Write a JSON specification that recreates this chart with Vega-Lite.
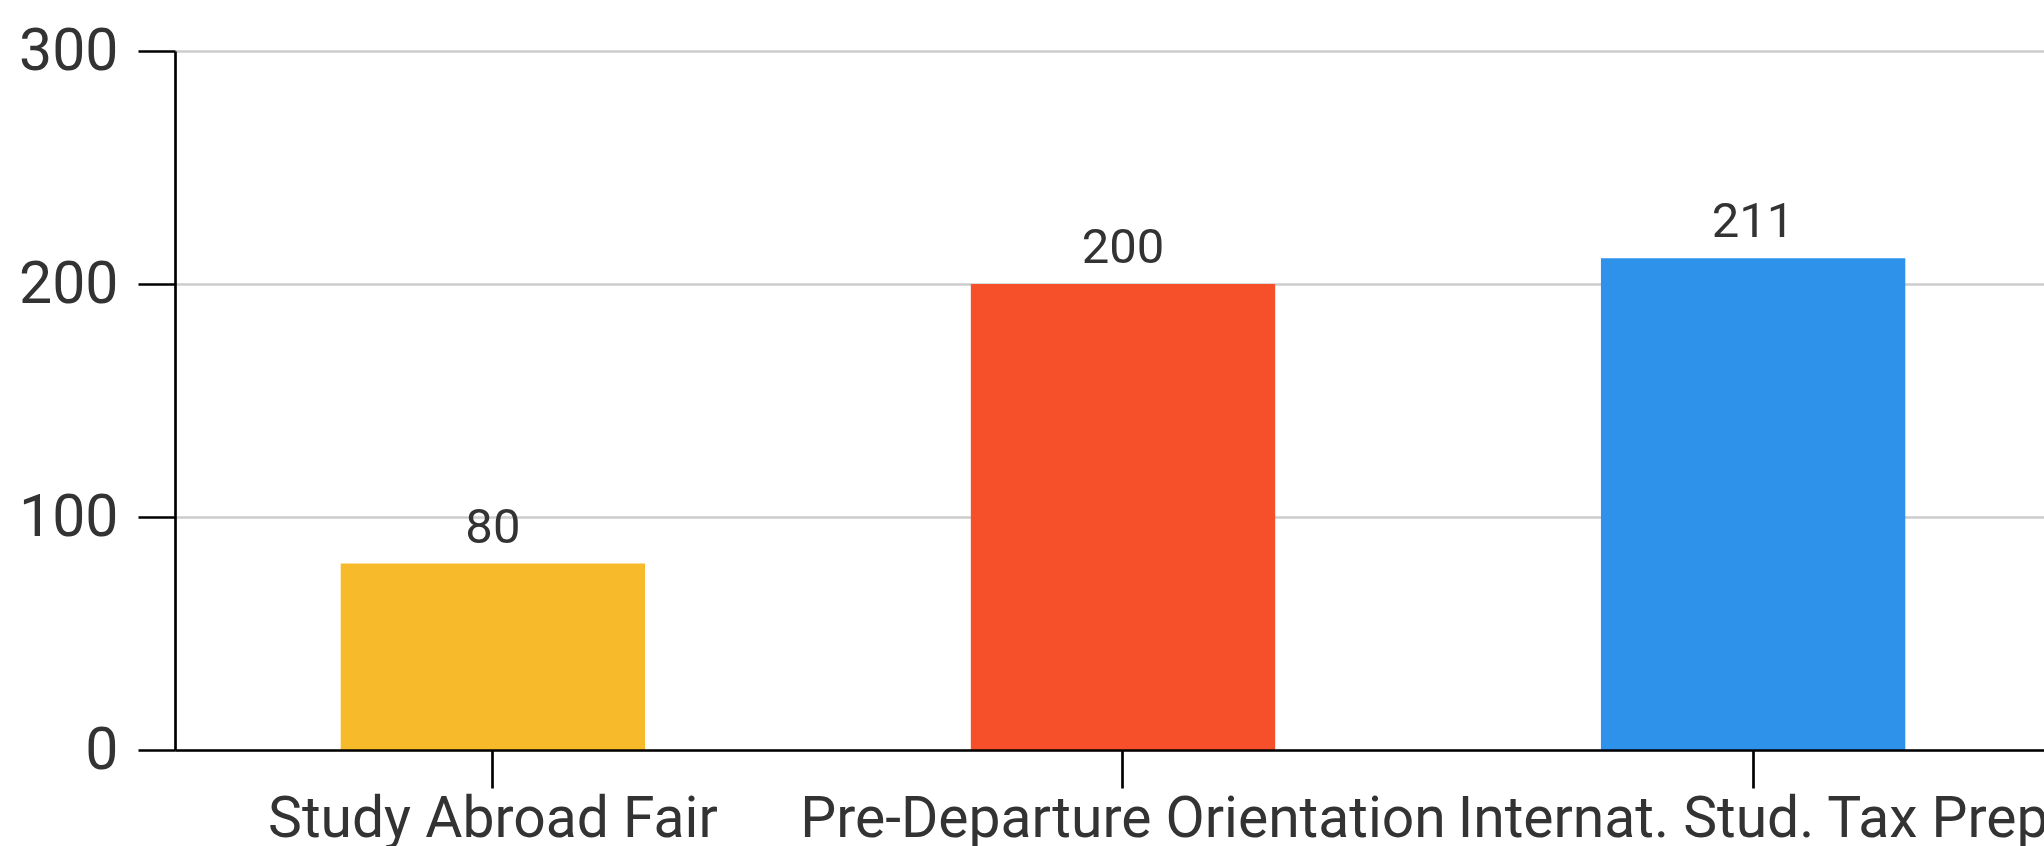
{
  "$schema": "https://vega.github.io/schema/vega-lite/v6.json",
  "autosize": {"type": "none"},
  "padding": {"left": 175, "top": 51, "right": 0, "bottom": 96},
  "width": 1896,
  "height": 699,
  "background": "white",
  "config": {
    "view": {"stroke": null},
    "font": "Roboto"
  },
  "data": {
    "values": [
      {"event": "Study Abroad Fair", "count": 80, "color": "#F6BA2B"},
      {"event": "Pre-Departure Orientation", "count": 200, "color": "#F5502A"},
      {"event": "Internat. Stud. Tax Prep", "count": 211, "color": "#2E91EA"}
    ]
  },
  "encoding": {
    "x": {
      "field": "event",
      "type": "nominal",
      "sort": null,
      "scale": {"paddingInner": 0.517, "paddingOuter": 0.263},
      "axis": {
        "title": null,
        "labelAngle": 0,
        "labelFont": "Roboto",
        "labelFontSize": 57,
        "labelColor": "#333333",
        "labelPadding": 3,
        "labelOverlap": false,
        "labelLimit": 0,
        "domainColor": "#000000",
        "domainWidth": 2.7,
        "tickColor": "#000000",
        "tickWidth": 2.7,
        "tickSize": 38,
        "grid": false,
        "zindex": 1
      }
    },
    "y": {
      "field": "count",
      "type": "quantitative",
      "scale": {"domain": [0, 300], "nice": false},
      "axis": {
        "title": null,
        "values": [0, 100, 200, 300],
        "labelFont": "Roboto",
        "labelFontSize": 59,
        "labelColor": "#333333",
        "labelPadding": 20,
        "domainColor": "#000000",
        "domainWidth": 2.7,
        "tickColor": "#000000",
        "tickWidth": 2.7,
        "tickSize": 37,
        "grid": true,
        "gridColor": "#cccccc",
        "gridWidth": 2.5
      }
    }
  },
  "layer": [
    {
      "mark": {"type": "bar"},
      "encoding": {
        "color": {"field": "color", "type": "nominal", "scale": null, "legend": null}
      }
    },
    {
      "mark": {"type": "text", "baseline": "alphabetic", "align": "center", "dy": -21, "fontSize": 49, "font": "Roboto", "color": "#333333"},
      "encoding": {
        "text": {"field": "count", "type": "quantitative"}
      }
    }
  ]
}
